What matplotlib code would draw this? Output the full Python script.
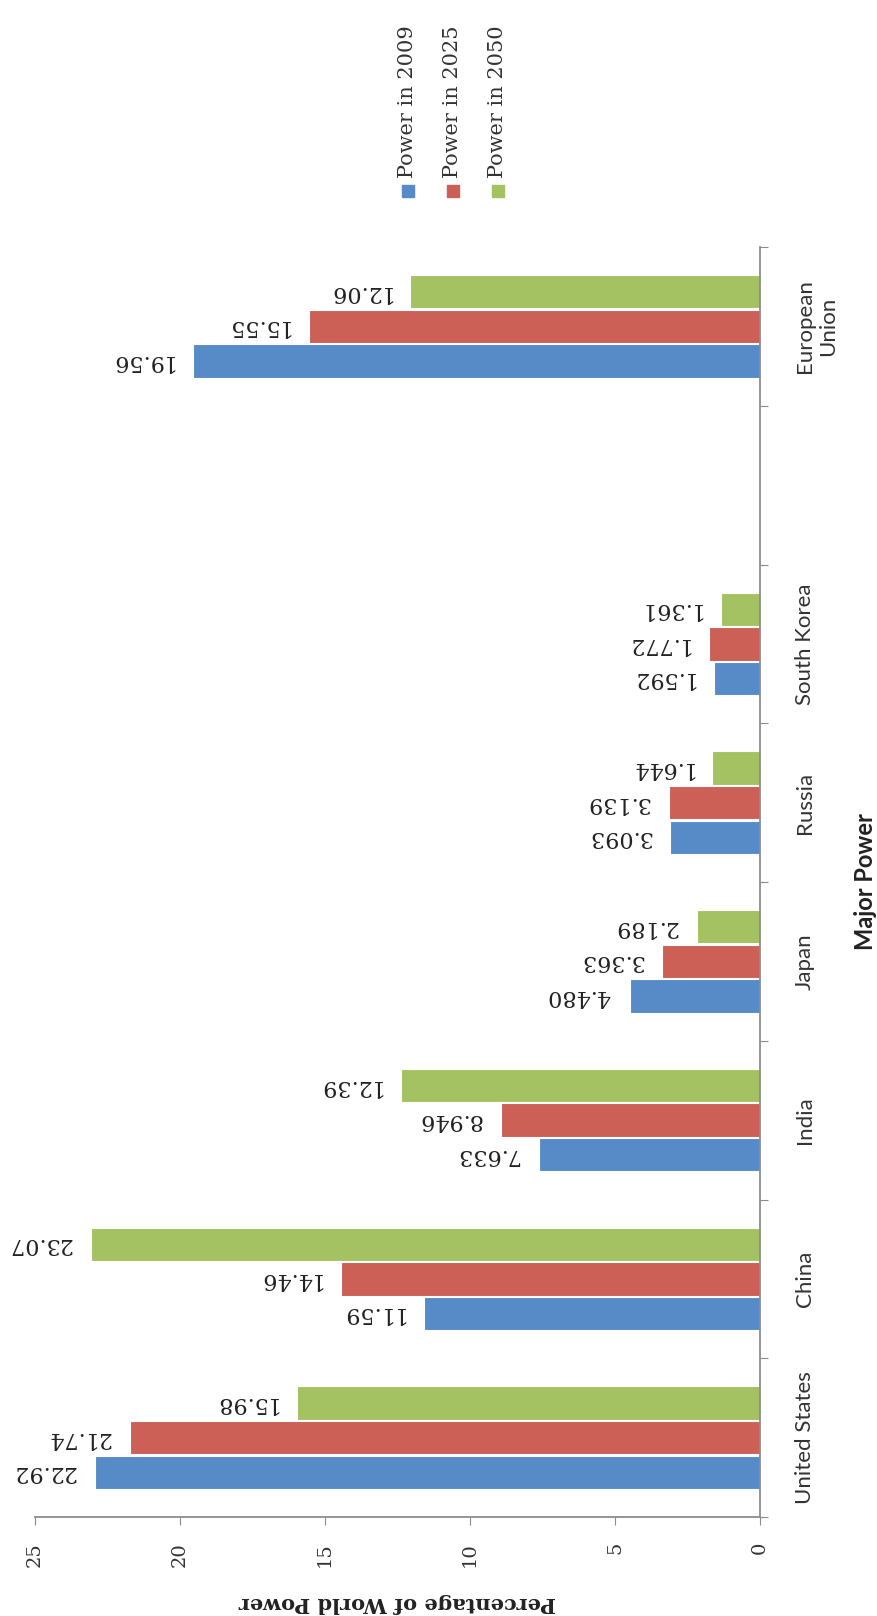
import numpy as np
import matplotlib
matplotlib.use("Agg")
import matplotlib.pyplot as plt
from matplotlib.patches import Rectangle

# datos (la ranura vacia entre South Korea y EU viene del original)
paises = ['United States', 'China', 'India', 'Japan', 'Russia', 'South Korea', '', 'European\nUnion']
poder_2009 = [22.92, 11.59, 7.633, 4.480, 3.093, 1.592, np.nan, 19.56]
poder_2025 = [21.74, 14.46, 8.946, 3.363, 3.139, 1.772, np.nan, 15.55]
poder_2050 = [15.98, 23.07, 12.39, 2.189, 1.644, 1.361, np.nan, 12.06]
series = ['Power in 2009', 'Power in 2025', 'Power in 2050']
colores = ['#568bc8', '#cc5f56', '#a4c262']
ticks_valor = [0, 5, 10, 15, 20, 25]

W, H = 878, 1616
fig = plt.figure(figsize=(W / 100, H / 100), dpi=100)
ax = fig.add_axes([35 / W, 99 / H, 725 / W, 1270 / H])

y = np.arange(len(paises))
alto = 0.21
for k, (vals, col) in enumerate(zip([poder_2009, poder_2025, poder_2050], colores)):
    pos = y + (k - 1) * 0.218
    ax.barh(pos, vals, height=alto, color=col, edgecolor='white', linewidth=0.8)
    for p, v in zip(pos, vals):
        if np.isnan(v):
            continue
        ax.annotate(f'{v:#.4g}', (v, p), xytext=(-14, 0), textcoords='offset points',
                    ha='right', va='center', rotation=180,
                    fontsize=16, family='DejaVu Serif', color='#222222')

ax.set_xlim(25, 0)
ax.set_ylim(-0.5, len(paises) - 0.5)

for s in ['top', 'left']:
    ax.spines[s].set_visible(False)
for s in ['right', 'bottom']:
    ax.spines[s].set_color('#8c8c8c')
    ax.spines[s].set_linewidth(1.3)

ax.set_xticks(ticks_valor)
ax.set_xticklabels([str(t) for t in ticks_valor], rotation=90, fontsize=14,
                   family='DejaVu Serif', color='#333333')
ax.tick_params(axis='x', direction='out', length=6, color='#8c8c8c', pad=12)

ax.yaxis.tick_right()
ax.set_yticks(np.arange(-0.5, len(paises), 1))
ax.set_yticklabels([])
ax.set_yticks(y, minor=True)
ax.set_yticklabels(paises, minor=True, rotation=90, va='center', ha='left',
                   multialignment='center', fontsize=16, family='Lato', color='#333333')
ax.tick_params(axis='y', which='major', direction='out', length=6, color='#8c8c8c')
ax.tick_params(axis='y', which='minor', length=0, pad=25)

ax.set_xlabel('Percentage of World Power', rotation=180, fontsize=15,
              family='DejaVu Serif', fontweight='bold', color='#222222', va='center')
ax.xaxis.set_label_coords(0.5, -0.0677)
ax.yaxis.set_label_position('right')
ax.set_ylabel('Major Power', rotation=90, fontsize=17, family='Lato',
              fontweight='bold', color='#222222', va='center', ha='center')
ax.yaxis.set_label_coords(1.146, 0.5)

# leyenda girada, hecha a mano
for i, (nombre, col) in enumerate(zip(series, colores)):
    xc = 408 + i * 45
    fig.add_artist(Rectangle(((xc - 6) / W, 1 - 197 / H), 12 / W, 12 / H,
                             transform=fig.transFigure, color=col))
    fig.text(xc / W, 1 - 178 / H, nombre, rotation=90, ha='center', va='bottom',
             fontsize=15, family='DejaVu Serif', color='#333333')

fig.savefig('out.png', dpi=100)
